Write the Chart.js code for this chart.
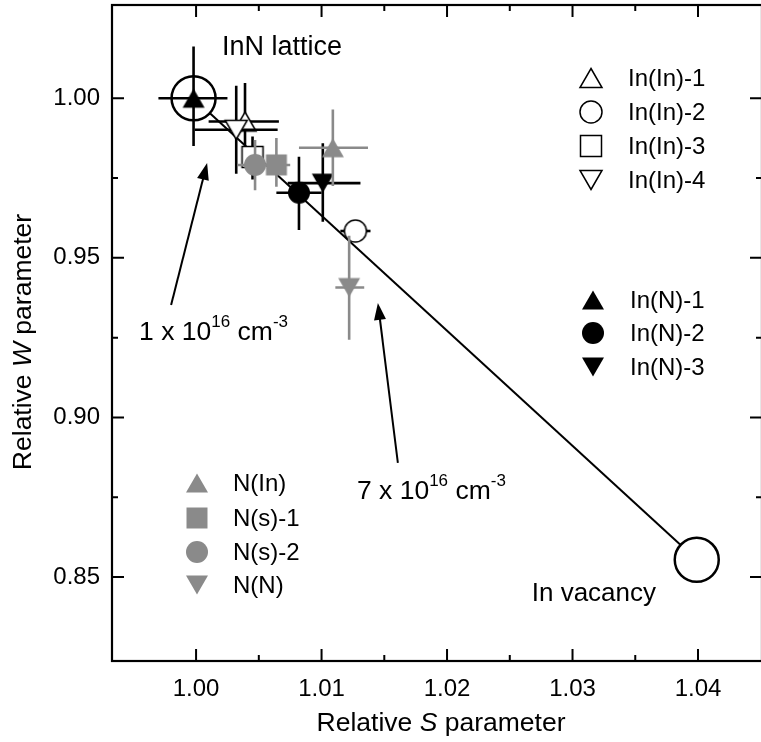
<!DOCTYPE html>
<html><head><meta charset="utf-8">
<script src="https://cdn.jsdelivr.net/npm/chart.js@4.4.0/dist/chart.umd.min.js"></script>
<style>html,body{margin:0;padding:0;background:#fff;overflow:hidden;width:761px;height:742px}canvas{display:block}</style>
</head><body><canvas id="c" width="764" height="742"></canvas>
<script>
// ---- data ----
const xTicks = [1.00, 1.01, 1.02, 1.03, 1.04];
const xMinorTicks = [1.005, 1.015, 1.025, 1.035];
const yTicks = [0.85, 0.90, 0.95, 1.00];
const yMinorTicks = [0.875, 0.925, 0.975];

const seriesNames = ["In(In)-1", "In(In)-2", "In(In)-3", "In(In)-4", "In(N)-1", "In(N)-2", "In(N)-3", "N(In)", "N(s)-1", "N(s)-2", "N(N)"];
const sValues = [1.0039, 1.0127, 1.0045, 1.0032, 0.9998, 1.0082, 1.0101, 1.0109, 1.0064, 1.0047, 1.0122];
const wValues = [0.9927, 0.9584, 0.9816, 0.9901, 1.0000, 0.9704, 0.9734, 0.9845, 0.9791, 0.9791, 0.9407];
const sLow  = [1.0010, 1.0115, 1.0040, 0.9999, 0.9970, 1.0064, 1.0073, 1.0082, 1.0055, 1.0033, 1.0111];
const sHigh = [1.0066, 1.0139, 1.0050, 1.0065, 1.0025, 1.0100, 1.0131, 1.0137, 1.0075, 1.0056, 1.0134];
const wLow  = [0.9805, 0.9584, 0.9745, 0.9763, 0.9850, 0.9587, 0.9613, 0.9725, 0.9723, 0.9712, 0.9243];
const wHigh = [1.0048, 0.9584, 0.9880, 1.0039, 1.0162, 0.9817, 0.9859, 0.9965, 0.9875, 0.9869, 0.9569];

const refNames = ["InN lattice", "In vacancy"];
const refS = [0.9998, 1.0399];
const refW = [1.0000, 0.8554];

// ---- styling ----
const GRAY = '#8a8a8a';
const styles = [
  ['up', '#fff', '#000'], ['circle', '#fff', '#000'], ['square', '#fff', '#000'], ['down', '#fff', '#000'],
  ['up', '#000', '#000'], ['circle', '#000', '#000'], ['down', '#000', '#000'],
  ['up', GRAY, GRAY], ['square', GRAY, GRAY], ['circle', GRAY, GRAY], ['down', GRAY, GRAY]
];
const barColors = ['#000','#000','#000','#000','#000','#000','#000',GRAY,GRAY,GRAY,GRAY];

function makeMarker(shape, fill, stroke) {
  const c = document.createElement('canvas');
  c.width = 26; c.height = 26;
  const g = c.getContext('2d');
  const cx = 13, cy = 13, w = 22, h = 19, r = 11;
  g.beginPath();
  if (shape === 'up') { g.moveTo(cx, cy - h/2); g.lineTo(cx + w/2, cy + h/2); g.lineTo(cx - w/2, cy + h/2); g.closePath(); }
  else if (shape === 'down') { g.moveTo(cx, cy + h/2); g.lineTo(cx + w/2, cy - h/2); g.lineTo(cx - w/2, cy - h/2); g.closePath(); }
  else if (shape === 'circle') { g.arc(cx, cy, r, 0, Math.PI*2); }
  else { g.rect(cx - 10.5, cy - 10.5, 21, 21); }
  g.fillStyle = fill; g.fill();
  if (fill === '#fff') { g.lineWidth = 1.5; g.strokeStyle = stroke; g.stroke(); }
  return c;
}
const markers = styles.map(s => makeMarker(s[0], s[1], s[2]));

const FONT = '"Liberation Sans", Arial, Helvetica, sans-serif';

const datasets = [
  { type: 'line', label: 'trend', data: refS.map((s, i) => ({x: s, y: refW[i]})), borderColor: '#000', borderWidth: 2, pointRadius: 0, order: 1000 },
  { type: 'scatter', label: 'refs', data: refS.map((s, i) => ({x: s, y: refW[i]})), pointRadius: 22, pointBackgroundColor: '#fff', pointBorderColor: '#000', pointBorderWidth: 2.5, order: 999 }
];
seriesNames.forEach((n, i) => {
  datasets.push({ type: 'scatter', label: n, data: [{x: sValues[i], y: wValues[i]}], pointStyle: markers[i], pointRadius: 12, order: 900 - i, seriesIndex: i });
});

const errorBars = {
  id: 'errorBars',
  beforeDatasetDraw(chart, args) {
    const ds = chart.data.datasets[args.index];
    if (ds.seriesIndex === undefined) return;
    const i = ds.seriesIndex;
    const xs = chart.scales.x, ys = chart.scales.y, ctx = chart.ctx;
    ctx.save();
    ctx.strokeStyle = barColors[i]; ctx.lineWidth = 2.6; ctx.lineCap = 'butt';
    const px = xs.getPixelForValue(sValues[i]), py = ys.getPixelForValue(wValues[i]);
    ctx.beginPath();
    ctx.moveTo(xs.getPixelForValue(sLow[i]), py); ctx.lineTo(xs.getPixelForValue(sHigh[i]), py);
    if (wLow[i] !== wHigh[i]) { ctx.moveTo(px, ys.getPixelForValue(wLow[i])); ctx.lineTo(px, ys.getPixelForValue(wHigh[i])); }
    ctx.stroke();
    ctx.restore();
  }
};

function richText(ctx, parts, x, y, size) {
  let cx = x;
  parts.forEach(p => {
    if (p.sup) { ctx.font = Math.round(size*0.66) + 'px ' + FONT; ctx.fillText(p.t, cx, y - size*0.5); }
    else { ctx.font = (p.it ? 'italic ' : '') + size + 'px ' + FONT; ctx.fillText(p.t, cx, y); }
    cx += ctx.measureText(p.t).width;
  });
  return cx - x;
}
function richWidth(ctx, parts, size) {
  let w = 0;
  parts.forEach(p => {
    ctx.font = p.sup ? Math.round(size*0.66) + 'px ' + FONT : (p.it ? 'italic ' : '') + size + 'px ' + FONT;
    w += ctx.measureText(p.t).width;
  });
  return w;
}
function arrow(ctx, x1, y1, x2, y2) {
  const a = Math.atan2(y2 - y1, x2 - x1), L = 17, W = 6;
  ctx.beginPath(); ctx.moveTo(x1, y1); ctx.lineTo(x2 - L*0.8*Math.cos(a), y2 - L*0.8*Math.sin(a)); ctx.stroke();
  ctx.beginPath(); ctx.moveTo(x2, y2);
  ctx.lineTo(x2 - L*Math.cos(a) + W*Math.sin(a), y2 - L*Math.sin(a) - W*Math.cos(a));
  ctx.lineTo(x2 - L*Math.cos(a) - W*Math.sin(a), y2 - L*Math.sin(a) + W*Math.cos(a));
  ctx.closePath(); ctx.fill();
}

// annotation anchors in data units
const arrowLow  = [[0.99801, 0.93525], [1.00088, 0.97973]];
const arrowHigh = [[1.01608, 0.88574], [1.01449, 0.93587]];
const labelLowPos = [0.99546, 0.92428];
const labelHighPos = [1.01282, 0.87447];
const latticeLabelPos = [1.00207, 1.01357];
const vacancyLabelPos = [1.02675, 0.8426];

const decor = {
  id: 'decor',
  afterDatasetsDraw(chart) {
    const ctx = chart.ctx, xs = chart.scales.x, ys = chart.scales.y, a = chart.chartArea;
    const X = v => xs.getPixelForValue(v), Y = v => ys.getPixelForValue(v);
    ctx.save();
    ctx.strokeStyle = '#000'; ctx.fillStyle = '#000';
    // frame
    ctx.lineWidth = 2.2;
    ctx.strokeRect(a.left, a.top, a.right - a.left, a.bottom - a.top);
    // ticks
    ctx.lineWidth = 2;
    ctx.beginPath();
    xTicks.forEach(v => { const x = X(v); ctx.moveTo(x, a.bottom); ctx.lineTo(x, a.bottom - 12); ctx.moveTo(x, a.top); ctx.lineTo(x, a.top + 12); });
    xMinorTicks.forEach(v => { const x = X(v); ctx.moveTo(x, a.bottom); ctx.lineTo(x, a.bottom - 6); ctx.moveTo(x, a.top); ctx.lineTo(x, a.top + 6); });
    yTicks.forEach(v => { const y = Y(v); ctx.moveTo(a.left, y); ctx.lineTo(a.left + 12, y); ctx.moveTo(a.right, y); ctx.lineTo(a.right - 12, y); });
    yMinorTicks.forEach(v => { const y = Y(v); ctx.moveTo(a.left, y); ctx.lineTo(a.left + 6, y); ctx.moveTo(a.right, y); ctx.lineTo(a.right - 6, y); });
    ctx.stroke();

    // arrows
    ctx.lineWidth = 2;
    arrow(ctx, X(arrowLow[0][0]), Y(arrowLow[0][1]), X(arrowLow[1][0]), Y(arrowLow[1][1]));
    arrow(ctx, X(arrowHigh[0][0]), Y(arrowHigh[0][1]), X(arrowHigh[1][0]), Y(arrowHigh[1][1]));

    // annotation text
    ctx.textBaseline = 'alphabetic'; ctx.textAlign = 'left';
    ctx.font = '27px ' + FONT;
    ctx.fillText(refNames[0], X(latticeLabelPos[0]), Y(latticeLabelPos[1]));
    ctx.font = '26px ' + FONT;
    ctx.fillText(refNames[1], X(vacancyLabelPos[0]), Y(vacancyLabelPos[1]));
    richText(ctx, [{t:'1 x 10'}, {t:'16', sup:true}, {t:' cm'}, {t:'-3', sup:true}], X(labelLowPos[0]), Y(labelLowPos[1]), 26.5);
    richText(ctx, [{t:'7 x 10'}, {t:'16', sup:true}, {t:' cm'}, {t:'-3', sup:true}], X(labelHighPos[0]), Y(labelHighPos[1]), 26.5);

    // legends
    const groups = [
      {idx: [0,1,2,3], mx: 591, tx: 628, ys: [78, 112, 146, 180]},
      {idx: [4,5,6], mx: 593, tx: 630, ys: [300, 333, 367]},
      {idx: [7,8,9,10], mx: 197, tx: 233, ys: [483, 518, 552, 585]}
    ];
    ctx.font = '24px ' + FONT; ctx.textBaseline = 'middle';
    groups.forEach(g => g.idx.forEach((si, k) => {
      const m = markers[si];
      ctx.drawImage(m, g.mx - m.width/2, g.ys[k] - m.height/2);
      ctx.fillText(seriesNames[si], g.tx, g.ys[k] + 1);
    }));

    // axis titles
    ctx.textBaseline = 'middle';
    const xt = [{t:'Relative '}, {t:'S', it:true}, {t:' parameter'}];
    const xw = richWidth(ctx, xt, 26.5);
    richText(ctx, xt, 441 - xw/2, 724, 26.5);
    const yt = [{t:'Relative '}, {t:'W', it:true}, {t:' parameter'}];
    ctx.translate(24, 342); ctx.rotate(-Math.PI/2);
    const yw = richWidth(ctx, yt, 26.5);
    richText(ctx, yt, -yw/2, 0, 26.5);
    ctx.restore();
  }
};

const noPad = s => { s.paddingTop = 0; s.paddingBottom = 0; s.paddingLeft = 0; s.paddingRight = 0; };

new Chart(document.getElementById('c'), {
  type: 'scatter',
  data: { datasets },
  options: {
    responsive: false, animation: false, devicePixelRatio: 1,
    layout: { autoPadding: false, padding: { top: 5, right: 2, left: 0, bottom: 0 } },
    plugins: { legend: { display: false }, tooltip: { enabled: false } },
    scales: {
      x: {
        type: 'linear', min: 0.9933, max: 1.0451,
        afterBuildTicks: s => { s.ticks = xTicks.map(v => ({value: v})); },
        afterFit: s => { s.height = 81; noPad(s); },
        grid: { display: false, drawTicks: false }, border: { display: false },
        ticks: { autoSkip: false, maxRotation: 0, padding: 14, color: '#000', font: { family: FONT, size: 24 }, callback: v => Number(v).toFixed(2) }
      },
      y: {
        type: 'linear', min: 0.8237, max: 1.0292,
        afterBuildTicks: s => { s.ticks = yTicks.map(v => ({value: v})); },
        afterFit: s => { s.width = 112; noPad(s); },
        grid: { display: false, drawTicks: false }, border: { display: false },
        ticks: { autoSkip: false, padding: 12, color: '#000', font: { family: FONT, size: 24 }, callback: v => Number(v).toFixed(2) }
      }
    }
  },
  plugins: [errorBars, decor]
});
</script>
</body></html>
